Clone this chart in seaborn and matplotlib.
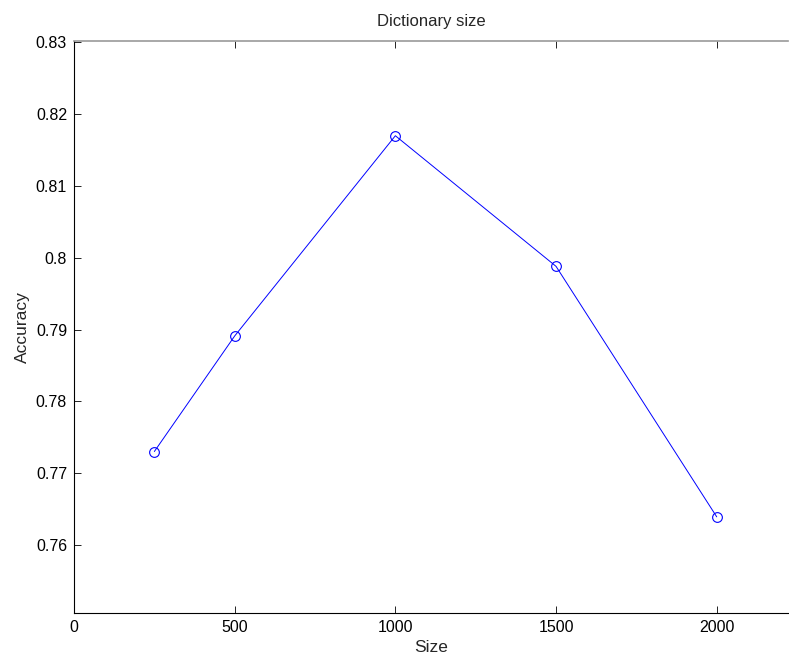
import matplotlib
matplotlib.use("Agg")
import matplotlib.pyplot as plt
import seaborn as sns
import pandas as pd

sizes = [250, 500, 1000, 1500, 2000]
accuracy = [0.773, 0.7891, 0.817, 0.7988, 0.7639]
xticks = [0, 500, 1000, 1500, 2000]
yticks = [0.76, 0.77, 0.78, 0.79, 0.80, 0.81, 0.82, 0.83]
ytick_labels = ["0.76", "0.77", "0.78", "0.79", "0.8", "0.81", "0.82", "0.83"]

sns.set_style("white")
plt.rcParams['font.family'] = ['Liberation Sans', 'DejaVu Sans']

df = pd.DataFrame({"Size": sizes, "Accuracy": accuracy})

fig = plt.figure(figsize=(7.89, 6.58), dpi=100)
ax = fig.add_axes([0.0938, 0.0684, 0.905, 0.8693])
sns.lineplot(data=df, x="Size", y="Accuracy", ax=ax, color="#0000ff",
             linewidth=0.7, marker="o", markersize=7, markerfacecolor="none",
             markeredgecolor="#0000ff", markeredgewidth=0.8)

ax.set_xlim(0, 2222)
ax.set_ylim(0.7505, 0.8302)
ax.set_xticks(xticks)
ax.set_xticklabels([str(t) for t in xticks])
ax.set_yticks(yticks)
ax.set_yticklabels(ytick_labels)
ax.tick_params(direction="in", length=5, width=0.6, labelsize=11.5,
               top=True, right=False, bottom=True, left=True, colors="black", pad=5)
for s in ["left", "bottom"]:
    ax.spines[s].set_color("black")
    ax.spines[s].set_linewidth(0.8)
ax.spines["top"].set_color("#999999")
ax.spines["top"].set_linewidth(1.2)
ax.spines["right"].set_visible(False)

ax.set_xlabel("Size", fontsize=12.5, labelpad=4)
ax.set_ylabel("Accuracy", fontsize=12.5, labelpad=4)
ax.set_title("Dictionary size", fontsize=12, pad=11)

fig.savefig("out.png", dpi=100)
